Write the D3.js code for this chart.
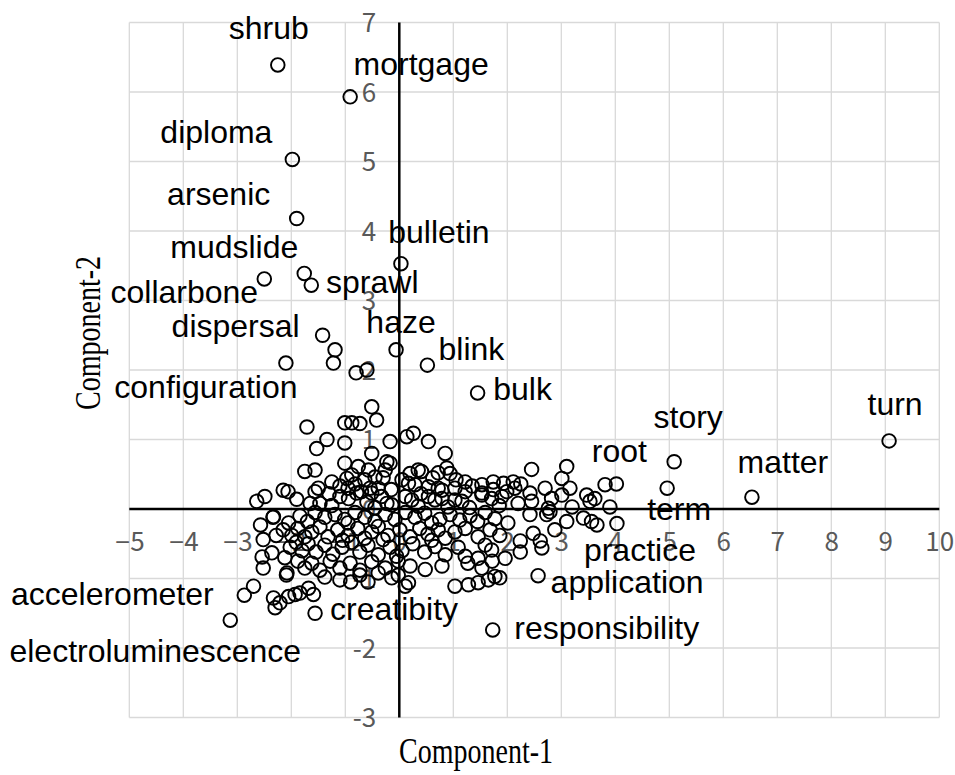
<!DOCTYPE html>
<html>
<head>
<meta charset="utf-8">
<script src="https://cdn.jsdelivr.net/npm/d3@7"></script>
<style>
  body { margin: 0; background: #fff; }
  svg { display: block; }
</style>
</head>
<body>
<svg id="chart" width="955" height="775"></svg>
<script>
// labelled words (component scores)
const words = ["shrub", "mortgage", "diploma", "arsenic", "bulletin", "mudslide", "collarbone", "sprawl",
  "dispersal", "haze", "blink", "configuration", "bulk", "story", "turn", "root", "matter", "term",
  "practice", "application", "responsibility", "creatibity", "accelerometer", "electroluminescence"];
const comp1 = [-2.25, -0.91, -1.98, -1.90, 0.03, -1.76, -2.50, -1.63, -1.42, -0.06, 0.52, -2.10, 1.45, 5.09,
  9.07, 4.02, 6.53, 4.96, 4.03, 2.57, 1.73, -1.56, -2.87, -3.13];
const comp2 = [6.39, 5.93, 5.03, 4.18, 3.53, 3.39, 3.31, 3.22, 2.50, 2.29, 2.07, 2.10, 1.67, 0.68, 0.98, 0.36,
  0.17, 0.30, -0.21, -0.96, -1.74, -1.50, -1.24, -1.60];

// the rest of the words, no label
const others = [
  [-0.80, 1.96], [-0.60, 2.00], [-1.19, 2.29], [-1.22, 2.10], [-0.51, 1.47],
  [-1.71, 1.18], [-1.01, 1.24], [-0.88, 1.24], [-0.73, 1.23], [-1.34, 1.00], [-1.01, 0.95], [-1.53, 0.87],
  [-1.01, 0.66], [-1.75, 0.54], [-1.56, 0.56], [-0.76, 0.61], [-0.42, 1.28], [-0.17, 0.97], [0.14, 1.04],
  [0.26, 1.09], [0.54, 0.97], [0.85, 0.80], [0.88, 0.59], [0.94, 0.51], [-0.51, 0.80], [-0.23, 0.68],
  [-0.17, 0.66], [-0.26, 0.56], [-0.57, 0.56], [-0.45, 0.46], [0.20, 0.51], [0.35, 0.56], [0.41, 0.54],
  [-0.97, 0.44], [-0.88, 0.49], [-1.25, 0.39],
  [-0.64, 0.42], [-0.30, 0.45], [0.05, 0.42], [0.62, 0.45], [1.05, 0.42], [0.72, 0.52],
  [1.22, 0.39], [1.53, 0.35], [1.74, 0.39], [2.45, 0.57], [3.10, 0.61], [3.01, 0.44], [2.11, 0.39],
  [1.93, 0.37], [3.81, 0.35],
  [-2.15, 0.27], [-2.06, 0.25], [-1.50, 0.30], [-1.56, 0.25], [-1.10, 0.33], [-0.95, 0.30], [-0.82, 0.36],
  [-0.54, 0.30], [-0.39, 0.30], [-0.51, 0.23], [0.17, 0.37], [0.29, 0.35], [0.54, 0.32], [0.72, 0.30],
  [0.79, 0.27], [1.03, 0.30], [1.22, 0.25], [1.53, 0.23], [1.74, 0.28], [2.14, 0.30], [1.99, 0.25],
  [2.42, 0.23], [2.70, 0.30], [3.01, 0.20], [3.16, 0.30], [3.47, 0.20], [3.62, 0.15], [-1.30, 0.22],
  [-0.70, 0.25], [-0.15, 0.28], [0.40, 0.22], [1.35, 0.33], [2.25, 0.36],
  [-2.64, 0.11], [-2.49, 0.18], [-1.90, 0.14], [-1.65, 0.08], [-1.47, 0.08], [-1.10, 0.18], [-0.94, 0.15],
  [-0.79, 0.23], [-0.33, 0.18], [-0.23, 0.08], [-0.14, 0.06], [0.11, 0.18], [0.23, 0.13], [0.54, 0.18],
  [0.66, 0.13], [0.79, 0.15], [1.03, 0.13], [1.16, 0.11], [1.53, 0.20], [1.71, 0.15], [1.90, 0.18],
  [2.45, 0.11], [2.76, 0.01], [2.82, 0.15], [3.53, 0.11], [3.90, 0.03], [-1.25, 0.05], [-0.60, 0.10],
  [-0.45, 0.02], [0.35, 0.04], [0.90, 0.03], [1.30, 0.02], [1.85, 0.05], [2.20, 0.08], [3.20, 0.03],
  [-2.57, -0.23], [-2.33, -0.11], [-2.05, -0.20], [-1.84, -0.10], [-1.56, -0.05], [-1.38, -0.12],
  [-1.19, -0.08], [-1.01, -0.15], [-0.82, -0.05], [-0.64, -0.12], [-0.45, -0.18], [-0.26, -0.08],
  [-0.08, -0.15], [0.11, -0.05], [0.29, -0.12], [0.47, -0.06], [0.75, -0.15], [0.94, -0.08], [1.12, -0.16],
  [1.31, -0.10], [1.59, -0.05], [1.77, -0.14], [2.01, -0.20], [2.42, -0.08], [2.73, -0.08], [2.79, -0.04],
  [3.10, -0.18], [3.41, -0.13], [3.56, -0.18], [3.66, -0.23], [-1.70, -0.18], [-0.95, -0.20], [0.60, -0.20],
  [1.45, -0.18], [-2.34, -0.12],
  [-2.52, -0.44], [-2.15, -0.30], [-1.99, -0.38], [-1.88, -0.28], [-1.75, -0.40], [-1.62, -0.33],
  [-1.47, -0.26], [-1.32, -0.40], [-1.14, -0.30], [-0.95, -0.38], [-0.77, -0.28], [-0.64, -0.42],
  [-0.51, -0.33], [-0.39, -0.25], [-0.21, -0.38], [0.01, -0.30], [0.20, -0.40], [0.38, -0.28], [0.53, -0.36],
  [0.72, -0.30], [0.85, -0.42], [1.03, -0.33], [1.22, -0.28], [1.46, -0.40], [1.68, -0.30], [1.86, -0.38],
  [2.24, -0.46], [2.48, -0.35], [2.61, -0.46], [2.88, -0.30], [-2.28, -0.38], [-1.05, -0.45], [-0.30, -0.44],
  [0.60, -0.45],
  [-2.36, -0.63], [-2.54, -0.69], [-2.02, -0.55], [-1.91, -0.48], [-1.80, -0.60], [-1.69, -0.50],
  [-1.54, -0.62], [-1.38, -0.52], [-1.23, -0.65], [-1.06, -0.55], [-0.88, -0.48], [-0.73, -0.62],
  [-0.58, -0.52], [-0.39, -0.66], [-0.17, -0.55], [0.05, -0.60], [0.25, -0.50], [0.47, -0.62], [0.66, -0.54],
  [0.85, -0.66], [1.09, -0.55], [1.22, -0.68], [1.46, -0.71], [1.59, -0.52], [1.71, -0.59], [1.96, -0.71],
  [2.64, -0.56], [2.24, -0.62], [-2.12, -0.70], [-0.05, -0.68],
  [-2.52, -0.85], [-2.09, -0.95], [-1.88, -0.75], [-1.75, -0.85], [-1.62, -0.78], [-1.47, -0.88],
  [-1.28, -0.75], [-1.10, -0.85], [-0.91, -0.78], [-0.73, -0.88], [-0.51, -0.76], [-0.26, -0.85],
  [-0.02, -0.75], [0.20, -0.82], [0.48, -0.87], [0.79, -0.82], [1.27, -0.78], [1.53, -0.85], [1.72, -0.75],
  [-2.08, -0.92], [-1.38, -0.98], [-1.10, -1.02], [-0.73, -0.95], [-0.58, -1.05], [-0.39, -0.92],
  [-0.14, -0.99], [-0.02, -0.95], [0.11, -1.11], [0.17, -1.06], [1.03, -1.11], [1.28, -1.09], [1.46, -1.06],
  [1.65, -1.02], [1.77, -0.97], [1.86, -0.99], [-0.90, -1.05],
  [-2.70, -1.11], [-2.33, -1.28], [-2.30, -1.42], [-2.21, -1.35], [-2.05, -1.26], [-1.93, -1.23],
  [-1.84, -1.21], [-1.68, -1.14], [-1.59, -1.23]
];

const xTicks = d3.range(-5, 11);
const yTicks = d3.range(-3, 8);
const xTitle = "Component-1";
const yTitle = "Component-2";

// label placement relative to the point: [dx, dy] in px (text centre, baseline)
const labelOffset = [[-9, -26], [71, -22], [-76, -16], [-78, -13], [38, -21], [-70, -15], [-80, 24], [61, 8],
  [-87, 2], [5, -17], [44, -5], [-80, 35], [45, 7], [14, -34], [6, -26], [3, -22], [31, -24], [12, 32],
  [23, 37], [89, 17], [114, 9], [79, 7], [-132, 10], [-75, 42]];

const svg = d3.select("#chart");
const plotL = 129.3, plotR = 939.3, plotT = 22.5, plotB = 717.5;

const x = d3.scaleLinear().domain([-5, 10]).range([plotL, plotR]);
const y = d3.scaleLinear().domain([-3, 7]).range([plotB, plotT]);

svg.append("rect").attr("width", 955).attr("height", 775).attr("fill", "#fff");

// grid
const grid = svg.append("g").attr("stroke", "#d9d9d9").attr("stroke-width", 1.3);
grid.selectAll(".gx").data(xTicks).join("line").attr("class", "gx")
  .attr("x1", d => x(d)).attr("x2", d => x(d)).attr("y1", plotT).attr("y2", plotB);
grid.selectAll(".gy").data(yTicks).join("line").attr("class", "gy")
  .attr("x1", plotL).attr("x2", plotR).attr("y1", d => y(d)).attr("y2", d => y(d));

// tick labels
const tickFont = "'Noto Sans CJK JP', 'Noto Sans', sans-serif";
const xAxis = svg.append("g").attr("transform", `translate(0,${y(0)})`)
  .call(d3.axisBottom(x).tickValues(xTicks).tickSize(0).tickFormat(""));
xAxis.select(".domain").remove();
xAxis.selectAll("text")
  .attr("y", 33).attr("dy", "0.35em")
  .attr("font-family", tickFont).attr("font-size", 26).attr("fill", "#595959")
  .each(function (d) {
    const t = d3.select(this);
    if (d < 0) {
      // long minus sign like the original
      t.append("tspan").attr("font-family", "'Liberation Sans', sans-serif").text("\u2212");
      t.append("tspan").text(-d);
    } else {
      t.text(d);
    }
  });

const yAxis = svg.append("g").attr("transform", `translate(${x(0)},0)`)
  .call(d3.axisLeft(y).tickValues(yTicks).tickSize(0).tickFormat(d => String(d)));
yAxis.select(".domain").remove();
yAxis.selectAll("text").attr("x", -23).attr("dy", "0.35em")
  .attr("font-family", tickFont).attr("font-size", 26).attr("fill", "#595959");

// zero lines
svg.append("line").attr("x1", x(0)).attr("x2", x(0)).attr("y1", plotT).attr("y2", plotB)
  .attr("stroke", "#000").attr("stroke-width", 2.5);
svg.append("line").attr("x1", plotL).attr("x2", plotR).attr("y1", y(0)).attr("y2", y(0))
  .attr("stroke", "#000").attr("stroke-width", 2.5);

// points
const pts = others.concat(words.map((w, i) => [comp1[i], comp2[i]]));
svg.append("g").selectAll("circle").data(pts).join("circle")
  .attr("cx", d => x(d[0])).attr("cy", d => y(d[1])).attr("r", 6.8)
  .attr("fill", "none").attr("stroke", "#000").attr("stroke-width", 1.9);

// labels
svg.append("g").selectAll("text").data(words).join("text")
  .attr("x", (w, i) => x(comp1[i]) + labelOffset[i][0])
  .attr("y", (w, i) => y(comp2[i]) + labelOffset[i][1])
  .attr("text-anchor", "middle")
  .attr("font-family", "'Liberation Sans', Arial, sans-serif").attr("font-size", 32)
  .attr("fill", "#000")
  .text(w => w);

// axis titles
svg.append("text").attr("transform", "translate(476,763) scale(1,1.3)")
  .attr("text-anchor", "middle").attr("font-family", "'Liberation Serif', 'Times New Roman', serif")
  .attr("font-size", 28).text(xTitle);
svg.append("text").attr("transform", "translate(100,333) rotate(-90) scale(1,1.3)")
  .attr("text-anchor", "middle").attr("font-family", "'Liberation Serif', 'Times New Roman', serif")
  .attr("font-size", 28).text(yTitle);
</script>
</body>
</html>
